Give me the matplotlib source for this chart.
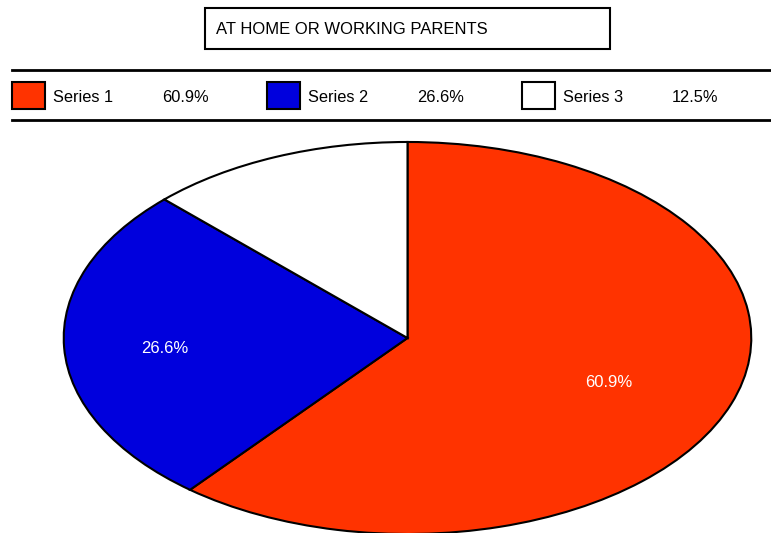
import matplotlib.pyplot as plt
from matplotlib.patches import Rectangle
from matplotlib.lines import Line2D

plt.rcParams['font.family'] = ['Liberation Sans', 'DejaVu Sans']

title = 'AT HOME OR WORKING PARENTS'
series = ['Series 1', 'Series 2', 'Series 3']
values = [60.9, 26.6, 12.5]
colors = ['#ff3300', '#0000dd', '#ffffff']

W, H = 771, 533
fig = plt.figure(figsize=(W / 100, H / 100), dpi=100)

# pie axes, stretched into an ellipse
ax = fig.add_axes([62 / W, 1 - 535 / H, 691 / W, 394 / H])
wedges, texts, autotexts = ax.pie(values, colors=colors, startangle=90, counterclock=False,
                                  autopct='%.1f%%', pctdistance=0.66,
                                  wedgeprops=dict(edgecolor='black', linewidth=1.5),
                                  textprops=dict(color='white', fontsize=12))
# label radius differs a bit per slice in the original
for t, k in zip(autotexts, [0.94, 1.07, 1.0]):
    x, y = t.get_position()
    t.set_position((x * k, y * k - 0.02))
ax.set_aspect('auto')
ax.set_xlim(-1.005, 1.005)
ax.set_ylim(-1.005, 1.005)
for c in ax.get_children():
    c.set_clip_on(False)

# title box
fig.patches.append(Rectangle((205 / W, 1 - 49 / H), 405 / W, 41 / H, transform=fig.transFigure,
                             facecolor='white', edgecolor='black', linewidth=1.5))
fig.text(216 / W, 1 - 29 / H, title, fontsize=12, va='center', ha='left')

# legend strip
for y in (70, 120):
    fig.lines.append(Line2D([12 / W, 1], [1 - y / H, 1 - y / H], transform=fig.transFigure,
                            color='black', linewidth=2))
xs = [12, 267, 522]
for x0, name, v, c in zip(xs, series, values, colors):
    fig.patches.append(Rectangle((x0 / W, 1 - 109 / H), 33 / W, 27 / H, transform=fig.transFigure,
                                 facecolor=c, edgecolor='black', linewidth=1.5))
    fig.text((x0 + 41) / W, 1 - 98 / H, name, fontsize=11.8, va='center', ha='left')
    fig.text((x0 + 150) / W, 1 - 98 / H, '%.1f%%' % v, fontsize=11.8, va='center', ha='left')

fig.savefig('out.png', dpi=100)
